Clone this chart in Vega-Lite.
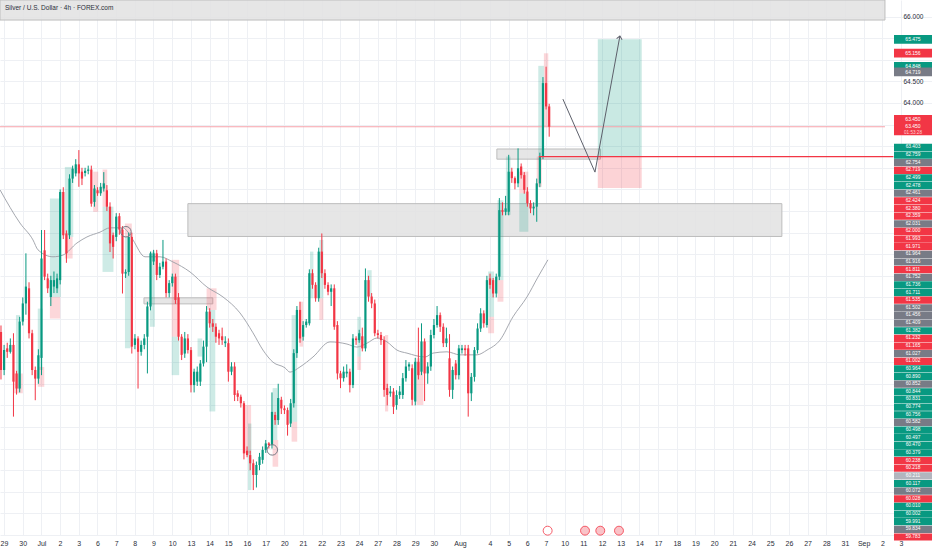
{
"$schema": "https://vega.github.io/schema/vega-lite/v6.json",
"width": 932, "height": 535,
"padding": {"left": 0, "top": 0, "right": 0, "bottom": 15},
"autosize": {"type": "none"},
"background": "white",
"title": {"text": "Silver / U.S. Dollar · 4h · FOREX.com", "anchor": "start", "frame": "group", "orient": "top", "offset": -11, "dx": 5, "fontSize": 6.5, "fontWeight": "normal", "color": "#2a2e39", "font": "Liberation Sans"},
"datasets": {
"zones": [
{"zone": "top", "k0": -0.32, "k1": 283.8, "p0": 65.92, "p1": 66.384},
{"zone": "supply", "k0": 60.0, "k1": 250.7, "p0": 60.91, "p1": 61.67},
{"zone": "breakout", "k0": 159.2, "k1": 192.5, "p0": 62.70, "p1": 62.935},
{"zone": "july", "k0": 45.9, "k1": 68.0, "p0": 59.35, "p1": 59.49}
],
"position": [
{"kind": "target", "k0": 191.6, "k1": 205.7, "p0": 62.759, "p1": 65.475},
{"kind": "stop", "k0": 191.6, "k1": 205.7, "p0": 62.03, "p1": 62.759}
],
"htf": [
{"k0":15.7,"k1":19.2,"p0":61.79,"p1":59.51,"dir":"up"},
{"k0":15.7,"k1":19.0,"p0":59.51,"p1":59.01,"dir":"down"},
{"k0":20.5,"k1":23.2,"p0":62.52,"p1":60.90,"dir":"up"},
{"k0":20.5,"k1":23.0,"p0":60.90,"p1":60.40,"dir":"down"},
{"k0":29.6,"k1":31.2,"p0":62.41,"p1":61.48,"dir":"down"},
{"k0":32.6,"k1":34.1,"p0":62.46,"p1":61.60,"dir":"down"},
{"k0":32.6,"k1":36.1,"p0":61.60,"p1":60.09,"dir":"up"},
{"k0":39.8,"k1":42.0,"p0":61.21,"p1":60.90,"dir":"down"},
{"k0":39.8,"k1":41.6,"p0":60.90,"p1":58.32,"dir":"up"},
{"k0":4.8,"k1":6.1,"p0":59.09,"p1":57.39,"dir":"up"},
{"k0":4.0,"k1":7.0,"p0":57.74,"p1":57.28,"dir":"down"},
{"k0":11.8,"k1":13.4,"p0":59.24,"p1":57.82,"dir":"up"},
{"k0":11.8,"k1":13.9,"p0":57.89,"p1":57.43,"dir":"down"},
{"k0":47.8,"k1":49.4,"p0":60.56,"p1":58.82,"dir":"up"},
{"k0":54.8,"k1":57.2,"p0":60.37,"p1":58.59,"dir":"down"},
{"k0":54.8,"k1":57.2,"p0":58.59,"p1":57.70,"dir":"up"},
{"k0":66.0,"k1":69.2,"p0":59.71,"p1":59.21,"dir":"down"},
{"k0":66.9,"k1":68.8,"p0":59.21,"p1":56.86,"dir":"up"},
{"k0":63.1,"k1":64.6,"p0":58.55,"p1":58.13,"dir":"up"},
{"k0":77.7,"k1":80.3,"p0":57.01,"p1":55.89,"dir":"down"},
{"k0":79.3,"k1":80.4,"p0":56.58,"p1":55.04,"dir":"up"},
{"k0":87.2,"k1":89.0,"p0":56.20,"p1":55.58,"dir":"down"},
{"k0":87.2,"k1":88.7,"p0":57.40,"p1":56.20,"dir":"up"},
{"k0":93.3,"k1":95.1,"p0":59.09,"p1":56.62,"dir":"up"},
{"k0":93.3,"k1":95.1,"p0":56.62,"p1":56.16,"dir":"down"},
{"k0":95.8,"k1":97.0,"p0":59.40,"p1":58.36,"dir":"down"},
{"k0":99.2,"k1":100.3,"p0":60.56,"p1":59.48,"dir":"up"},
{"k0":102.2,"k1":103.5,"p0":60.83,"p1":59.48,"dir":"up"},
{"k0":102.2,"k1":103.5,"p0":59.48,"p1":58.98,"dir":"down"},
{"k0":114.4,"k1":115.6,"p0":59.05,"p1":58.13,"dir":"up"},
{"k0":114.4,"k1":115.6,"p0":58.13,"p1":57.82,"dir":"down"},
{"k0":117.6,"k1":119.0,"p0":60.13,"p1":59.52,"dir":"up"},
{"k0":123.3,"k1":124.3,"p0":58.63,"p1":56.86,"dir":"down"},
{"k0":133.4,"k1":135.6,"p0":58.09,"p1":57.01,"dir":"down"},
{"k0":156.4,"k1":158.3,"p0":60.10,"p1":59.05,"dir":"up"},
{"k0":156.4,"k1":158.3,"p0":59.05,"p1":58.67,"dir":"down"},
{"k0":159.4,"k1":161.3,"p0":61.75,"p1":59.90,"dir":"up"},
{"k0":159.4,"k1":161.3,"p0":59.90,"p1":59.40,"dir":"down"},
{"k0":162.1,"k1":163.6,"p0":62.76,"p1":61.41,"dir":"up"},
{"k0":166.4,"k1":169.3,"p0":62.41,"p1":61.91,"dir":"down"},
{"k0":166.4,"k1":169.3,"p0":61.91,"p1":61.02,"dir":"up"},
{"k0":172.0,"k1":173.6,"p0":62.76,"p1":62.06,"dir":"down"},
{"k0":172.5,"k1":174.3,"p0":64.86,"p1":62.76,"dir":"up"},
{"k0":174.3,"k1":175.7,"p0":65.15,"p1":63.45,"dir":"down"}
],
"ma": [
{"k":-0.32,"p":61.99},{"k":6.10,"p":61.22},{"k":10.27,"p":60.83},{"k":11.88,"p":60.60},{"k":16.69,"p":60.44},{"k":19.90,"p":60.48},{"k":24.40,"p":60.76},{"k":27.61,"p":60.90},{"k":31.78,"p":61.01},{"k":34.99,"p":61.11},{"k":39.17,"p":61.11},{"k":40.77,"p":61.01},{"k":42.38,"p":60.83},{"k":46.23,"p":60.44},{"k":51.04,"p":60.44},{"k":55.22,"p":60.32},{"k":60.67,"p":60.09},{"k":66.13,"p":59.74},{"k":71.27,"p":59.51},{"k":76.73,"p":59.14},{"k":80.90,"p":58.68},{"k":84.11,"p":58.28},{"k":87.32,"p":58.00},{"k":91.17,"p":57.87},{"k":92.78,"p":57.77},{"k":95.99,"p":57.89},{"k":100.16,"p":58.12},{"k":105.62,"p":58.47},{"k":111.08,"p":58.42},{"k":114.29,"p":58.35},{"k":117.50,"p":58.44},{"k":120.71,"p":58.56},{"k":123.92,"p":58.47},{"k":127.13,"p":58.28},{"k":130.34,"p":58.21},{"k":136.12,"p":58.12},{"k":138.68,"p":58.21},{"k":143.18,"p":58.24},{"k":147.35,"p":58.17},{"k":152.81,"p":58.17},{"k":156.02,"p":58.28},{"k":160.19,"p":58.51},{"k":164.37,"p":59.05},{"k":168.86,"p":59.51},{"k":172.39,"p":59.97},{"k":175.60,"p":60.37}
],
"candles": [
{"k":0,"o":58.70,"h":58.85,"l":57.60,"c":57.82},
{"k":1,"o":57.82,"h":58.40,"l":57.70,"c":58.28},
{"k":2,"o":58.32,"h":58.45,"l":58.10,"c":58.24},
{"k":3,"o":58.24,"h":58.55,"l":58.20,"c":58.40},
{"k":4,"o":58.40,"h":58.67,"l":56.74,"c":57.55},
{"k":5,"o":57.74,"h":57.80,"l":57.25,"c":57.39},
{"k":6,"o":57.39,"h":59.05,"l":57.30,"c":58.94},
{"k":7,"o":58.94,"h":59.50,"l":58.85,"c":59.36},
{"k":8,"o":59.36,"h":60.52,"l":59.10,"c":59.75},
{"k":9,"o":59.71,"h":59.85,"l":58.55,"c":58.67},
{"k":10,"o":58.67,"h":58.75,"l":57.70,"c":57.82},
{"k":11,"o":57.82,"h":57.90,"l":57.12,"c":57.62},
{"k":12,"o":57.62,"h":58.30,"l":57.50,"c":58.16},
{"k":13,"o":58.10,"h":61.06,"l":57.70,"c":60.40},
{"k":14,"o":60.59,"h":61.06,"l":59.90,"c":59.98},
{"k":15,"o":59.94,"h":60.05,"l":59.60,"c":59.71},
{"k":16,"o":59.51,"h":60.00,"l":59.30,"c":59.90},
{"k":17,"o":59.75,"h":60.10,"l":59.60,"c":59.90},
{"k":18,"o":59.71,"h":60.05,"l":59.60,"c":59.94},
{"k":19,"o":59.90,"h":62.00,"l":59.80,"c":61.94},
{"k":20,"o":61.94,"h":62.05,"l":60.85,"c":60.94},
{"k":21,"o":60.98,"h":61.05,"l":60.30,"c":60.52},
{"k":22,"o":60.94,"h":62.35,"l":60.85,"c":62.25},
{"k":23,"o":62.25,"h":62.55,"l":62.15,"c":62.48},
{"k":24,"o":62.37,"h":62.70,"l":62.30,"c":62.58},
{"k":25,"o":62.58,"h":62.91,"l":62.06,"c":62.37},
{"k":26,"o":62.41,"h":62.50,"l":62.10,"c":62.25},
{"k":27,"o":62.38,"h":62.50,"l":62.30,"c":62.43},
{"k":28,"o":62.43,"h":62.55,"l":62.35,"c":62.46},
{"k":29,"o":62.46,"h":62.55,"l":61.60,"c":61.67},
{"k":30,"o":61.71,"h":62.10,"l":61.60,"c":62.02},
{"k":31,"o":61.98,"h":62.05,"l":61.85,"c":61.91},
{"k":32,"o":61.91,"h":62.15,"l":61.85,"c":62.06},
{"k":33,"o":62.02,"h":62.40,"l":61.95,"c":62.14},
{"k":34,"o":61.98,"h":62.10,"l":61.50,"c":61.60},
{"k":35,"o":61.60,"h":61.70,"l":60.55,"c":60.75},
{"k":36,"o":60.94,"h":61.00,"l":60.40,"c":60.67},
{"k":37,"o":60.90,"h":61.45,"l":60.80,"c":61.37},
{"k":38,"o":61.38,"h":61.45,"l":60.95,"c":61.07},
{"k":39,"o":61.07,"h":61.15,"l":59.59,"c":60.05},
{"k":40,"o":60.05,"h":60.15,"l":59.95,"c":60.09},
{"k":41,"o":60.09,"h":61.00,"l":60.00,"c":60.90},
{"k":42,"o":60.90,"h":61.00,"l":58.20,"c":58.36},
{"k":43,"o":58.40,"h":58.65,"l":58.30,"c":58.55},
{"k":44,"o":58.55,"h":58.60,"l":57.39,"c":58.24},
{"k":45,"o":58.24,"h":58.50,"l":58.15,"c":58.40},
{"k":46,"o":58.40,"h":58.65,"l":58.30,"c":58.55},
{"k":47,"o":58.59,"h":59.40,"l":57.74,"c":59.29},
{"k":48,"o":59.29,"h":60.56,"l":59.20,"c":60.52},
{"k":49,"o":60.33,"h":60.60,"l":60.25,"c":60.52},
{"k":50,"o":60.52,"h":60.60,"l":59.90,"c":60.02},
{"k":51,"o":60.02,"h":60.30,"l":59.95,"c":60.21},
{"k":52,"o":60.21,"h":60.83,"l":60.15,"c":60.33},
{"k":53,"o":60.33,"h":60.40,"l":59.50,"c":59.60},
{"k":54,"o":59.60,"h":59.90,"l":59.50,"c":59.83},
{"k":55,"o":59.83,"h":60.05,"l":59.75,"c":59.98},
{"k":56,"o":59.98,"h":60.05,"l":59.35,"c":59.44},
{"k":57,"o":59.50,"h":59.60,"l":58.50,"c":58.59},
{"k":58,"o":58.59,"h":58.65,"l":58.05,"c":58.17},
{"k":59,"o":58.20,"h":58.70,"l":58.10,"c":58.55},
{"k":60,"o":58.55,"h":58.65,"l":58.20,"c":58.28},
{"k":61,"o":58.28,"h":58.35,"l":57.30,"c":57.47},
{"k":62,"o":57.47,"h":57.85,"l":57.30,"c":57.78},
{"k":63,"o":57.55,"h":57.90,"l":57.45,"c":57.78},
{"k":64,"o":57.55,"h":58.05,"l":57.45,"c":57.97},
{"k":65,"o":57.97,"h":58.50,"l":57.90,"c":58.36},
{"k":66,"o":58.36,"h":59.30,"l":58.00,"c":59.17},
{"k":67,"o":59.17,"h":59.25,"l":58.80,"c":58.90},
{"k":68,"o":58.90,"h":59.00,"l":58.70,"c":58.82},
{"k":69,"o":58.82,"h":58.90,"l":58.45,"c":58.59},
{"k":70,"o":58.67,"h":58.75,"l":58.40,"c":58.55},
{"k":71,"o":58.60,"h":58.80,"l":58.40,"c":58.51},
{"k":72,"o":58.44,"h":58.60,"l":58.35,"c":58.48},
{"k":73,"o":58.44,"h":58.55,"l":57.55,"c":57.78},
{"k":74,"o":57.78,"h":58.00,"l":57.70,"c":57.90},
{"k":75,"o":57.90,"h":58.00,"l":57.10,"c":57.24},
{"k":76,"o":57.28,"h":57.35,"l":57.10,"c":57.20},
{"k":77,"o":57.20,"h":57.25,"l":56.95,"c":57.05},
{"k":78,"o":57.05,"h":57.10,"l":55.75,"c":55.89},
{"k":79,"o":55.95,"h":56.05,"l":55.80,"c":55.85},
{"k":80,"o":55.85,"h":55.95,"l":55.50,"c":55.66},
{"k":81,"o":55.66,"h":55.75,"l":55.04,"c":55.39},
{"k":82,"o":55.39,"h":55.70,"l":55.10,"c":55.62},
{"k":83,"o":55.62,"h":55.90,"l":55.50,"c":55.81},
{"k":84,"o":55.74,"h":56.05,"l":55.65,"c":55.97},
{"k":85,"o":55.97,"h":56.20,"l":55.90,"c":56.12},
{"k":86,"o":56.12,"h":56.15,"l":56.00,"c":56.08},
{"k":87,"o":56.08,"h":57.30,"l":56.00,"c":56.85},
{"k":88,"o":56.78,"h":56.85,"l":56.55,"c":56.66},
{"k":89,"o":56.66,"h":57.50,"l":56.55,"c":57.17},
{"k":90,"o":57.13,"h":57.20,"l":56.80,"c":56.93},
{"k":91,"o":56.93,"h":57.00,"l":56.80,"c":56.89},
{"k":92,"o":56.89,"h":56.95,"l":56.30,"c":56.55},
{"k":93,"o":56.58,"h":57.15,"l":56.50,"c":57.05},
{"k":94,"o":57.05,"h":58.30,"l":56.95,"c":58.21},
{"k":95,"o":58.21,"h":59.30,"l":58.10,"c":59.21},
{"k":96,"o":59.21,"h":59.40,"l":58.45,"c":58.55},
{"k":97,"o":58.59,"h":58.95,"l":58.50,"c":58.86},
{"k":98,"o":58.86,"h":59.00,"l":58.80,"c":58.94},
{"k":99,"o":58.90,"h":60.15,"l":58.85,"c":60.06},
{"k":100,"o":60.06,"h":60.15,"l":59.70,"c":59.79},
{"k":101,"o":59.79,"h":59.85,"l":59.40,"c":59.48},
{"k":102,"o":59.48,"h":60.65,"l":59.40,"c":60.56},
{"k":103,"o":60.56,"h":60.98,"l":59.95,"c":60.06},
{"k":104,"o":60.06,"h":60.15,"l":59.70,"c":59.79},
{"k":105,"o":59.79,"h":59.85,"l":59.55,"c":59.63},
{"k":106,"o":59.63,"h":59.80,"l":59.30,"c":59.71},
{"k":107,"o":59.71,"h":59.80,"l":58.75,"c":58.82},
{"k":108,"o":58.86,"h":58.95,"l":57.60,"c":57.74},
{"k":109,"o":57.74,"h":57.80,"l":57.40,"c":57.63},
{"k":110,"o":57.63,"h":57.90,"l":57.55,"c":57.78},
{"k":111,"o":57.74,"h":57.95,"l":57.65,"c":57.78},
{"k":112,"o":57.78,"h":57.85,"l":57.30,"c":57.47},
{"k":113,"o":57.47,"h":58.65,"l":57.40,"c":58.55},
{"k":114,"o":58.55,"h":58.60,"l":58.40,"c":58.51},
{"k":115,"o":58.51,"h":58.75,"l":58.45,"c":58.67},
{"k":116,"o":58.60,"h":58.80,"l":58.25,"c":58.32},
{"k":117,"o":58.32,"h":60.17,"l":58.25,"c":59.90},
{"k":118,"o":59.90,"h":60.00,"l":59.40,"c":59.52},
{"k":119,"o":59.52,"h":59.60,"l":59.25,"c":59.36},
{"k":120,"o":59.36,"h":59.45,"l":58.60,"c":58.67},
{"k":121,"o":58.67,"h":58.75,"l":58.55,"c":58.63},
{"k":122,"o":58.63,"h":58.70,"l":58.40,"c":58.51},
{"k":123,"o":58.51,"h":58.60,"l":57.20,"c":57.36},
{"k":124,"o":57.40,"h":57.50,"l":57.00,"c":57.24},
{"k":125,"o":57.28,"h":57.45,"l":57.20,"c":57.32},
{"k":126,"o":57.32,"h":57.40,"l":56.80,"c":56.97},
{"k":127,"o":57.01,"h":57.35,"l":56.90,"c":57.24},
{"k":128,"o":57.24,"h":57.45,"l":57.15,"c":57.32},
{"k":129,"o":57.24,"h":57.75,"l":57.15,"c":57.63},
{"k":130,"o":57.63,"h":58.05,"l":57.55,"c":57.90},
{"k":131,"o":57.90,"h":58.00,"l":57.80,"c":57.95},
{"k":132,"o":57.86,"h":57.95,"l":57.00,"c":57.13},
{"k":133,"o":57.09,"h":58.10,"l":57.00,"c":58.01},
{"k":134,"o":58.01,"h":58.80,"l":57.60,"c":57.70},
{"k":135,"o":57.78,"h":58.90,"l":57.70,"c":58.48},
{"k":136,"o":58.48,"h":58.55,"l":57.10,"c":57.74},
{"k":137,"o":57.74,"h":58.00,"l":57.50,"c":57.90},
{"k":138,"o":57.90,"h":58.75,"l":57.80,"c":58.63},
{"k":139,"o":58.63,"h":59.00,"l":58.55,"c":58.86},
{"k":140,"o":58.86,"h":59.30,"l":58.80,"c":59.09},
{"k":141,"o":59.09,"h":59.15,"l":58.70,"c":58.82},
{"k":142,"o":58.82,"h":58.90,"l":58.35,"c":58.44},
{"k":143,"o":58.44,"h":58.80,"l":58.35,"c":58.55},
{"k":144,"o":58.09,"h":58.65,"l":57.20,"c":57.36},
{"k":145,"o":57.36,"h":57.90,"l":57.15,"c":57.82},
{"k":146,"o":57.97,"h":58.05,"l":57.60,"c":57.70},
{"k":147,"o":57.70,"h":58.40,"l":57.60,"c":58.32},
{"k":148,"o":58.28,"h":58.40,"l":58.20,"c":58.32},
{"k":149,"o":58.32,"h":58.40,"l":58.15,"c":58.28},
{"k":150,"o":58.32,"h":58.40,"l":56.74,"c":57.28},
{"k":151,"o":57.28,"h":57.75,"l":57.10,"c":57.66},
{"k":152,"o":57.66,"h":58.35,"l":57.55,"c":58.28},
{"k":153,"o":58.28,"h":58.90,"l":58.20,"c":58.78},
{"k":154,"o":58.78,"h":59.25,"l":58.70,"c":59.13},
{"k":155,"o":59.13,"h":59.20,"l":58.80,"c":58.90},
{"k":156,"o":58.86,"h":60.00,"l":58.80,"c":59.90},
{"k":157,"o":59.94,"h":60.05,"l":59.70,"c":59.79},
{"k":158,"o":59.90,"h":59.95,"l":59.50,"c":59.59},
{"k":159,"o":59.59,"h":60.05,"l":59.50,"c":59.98},
{"k":160,"o":59.98,"h":61.80,"l":59.90,"c":61.52},
{"k":161,"o":61.52,"h":61.70,"l":61.40,"c":61.48},
{"k":162,"o":61.48,"h":61.85,"l":61.40,"c":61.56},
{"k":163,"o":61.48,"h":62.80,"l":61.40,"c":62.41},
{"k":164,"o":62.41,"h":62.50,"l":62.15,"c":62.26},
{"k":165,"o":62.26,"h":62.30,"l":62.00,"c":62.14},
{"k":166,"o":62.14,"h":62.95,"l":62.05,"c":62.49},
{"k":167,"o":62.53,"h":62.60,"l":62.25,"c":62.33},
{"k":168,"o":62.33,"h":62.40,"l":61.90,"c":61.99},
{"k":169,"o":61.95,"h":62.05,"l":61.60,"c":61.68},
{"k":170,"o":61.68,"h":61.75,"l":61.45,"c":61.56},
{"k":171,"o":61.56,"h":61.70,"l":61.40,"c":61.60},
{"k":172,"o":61.60,"h":62.25,"l":61.25,"c":62.14},
{"k":173,"o":62.14,"h":62.85,"l":62.05,"c":62.76},
{"k":174,"o":62.76,"h":64.60,"l":62.70,"c":64.46},
{"k":175,"o":64.46,"h":64.84,"l":63.85,"c":63.92},
{"k":176,"o":63.92,"h":63.98,"l":63.22,"c":63.45}
],
"levels": [
{"name": "last", "p": 63.45, "k0": -0.32, "k1": 283.8},
{"name": "entry", "p": 62.759, "k0": 172.7, "k1": 286.5}
],
"path": [
{"i": 1, "k": 180.4, "p": 64.09},
{"i": 2, "k": 190.7, "p": 62.40},
{"i": 3, "k": 198.7, "p": 65.55}
],
"circles": [
{"k": 40.1, "p": 61.02},
{"k": 87.1, "p": 55.97}
],
"events": [
{"k": 175.5, "kind": "dividend"},
{"k": 187.5, "kind": "macro"},
{"k": 192.4, "kind": "macro"},
{"k": 198.4, "kind": "macro"}
],
"toptags": [
{"v": 65.475, "label": "65.475", "kind": "up"},
{"v": 65.156, "label": "65.156", "kind": "down"},
{"v": 64.848, "label": "64.848", "kind": "up"},
{"v": 64.719, "label": "64.719", "kind": "neutral"}
],
"current": [
{"v": 63.45, "upper": "63.450", "price": "63.450", "timer": "01:53:28"}
],
"stack": [
{"label":"63.403","kind":"up"},
{"label":"62.759","kind":"up"},
{"label":"62.754","kind":"neutral"},
{"label":"62.719","kind":"down"},
{"label":"62.499","kind":"up"},
{"label":"62.478","kind":"up"},
{"label":"62.461","kind":"neutral"},
{"label":"62.424","kind":"down"},
{"label":"62.380","kind":"down"},
{"label":"62.359","kind":"down"},
{"label":"62.031","kind":"neutral"},
{"label":"62.000","kind":"down"},
{"label":"61.993","kind":"down"},
{"label":"61.971","kind":"down"},
{"label":"61.964","kind":"neutral"},
{"label":"61.916","kind":"neutral"},
{"label":"61.811","kind":"down"},
{"label":"61.752","kind":"neutral"},
{"label":"61.736","kind":"up"},
{"label":"61.711","kind":"up"},
{"label":"61.535","kind":"down"},
{"label":"61.502","kind":"neutral"},
{"label":"61.456","kind":"neutral"},
{"label":"61.409","kind":"neutral"},
{"label":"61.382","kind":"up"},
{"label":"61.232","kind":"down"},
{"label":"61.165","kind":"down"},
{"label":"61.027","kind":"neutral"},
{"label":"61.002","kind":"down"},
{"label":"60.964","kind":"up"},
{"label":"60.890","kind":"up"},
{"label":"60.852","kind":"neutral"},
{"label":"60.844","kind":"up"},
{"label":"60.831","kind":"up"},
{"label":"60.774","kind":"up"},
{"label":"60.756","kind":"up"},
{"label":"60.582","kind":"neutral"},
{"label":"60.498","kind":"up"},
{"label":"60.497","kind":"up"},
{"label":"60.470","kind":"up"},
{"label":"60.379","kind":"up"},
{"label":"60.238","kind":"down"},
{"label":"60.218","kind":"down"},
{"label":"60.211","kind":"faded"},
{"label":"60.117","kind":"up"},
{"label":"60.072","kind":"neutral"},
{"label":"60.028","kind":"down"},
{"label":"60.010","kind":"up"},
{"label":"60.002","kind":"up"},
{"label":"59.991","kind":"up"},
{"label":"59.834","kind":"neutral"},
{"label":"59.783","kind":"down"}
]
},
"layer": [
{
"layer": [
{
"data": {"name": "zones"},
"mark": {"type": "rect", "fill": "#e2e2e2", "fillOpacity": 0.85, "stroke": "#bdbdbd", "strokeWidth": 1, "clip": true},
"encoding": {
"x": {"field": "k0", "type": "quantitative", "title": null,
"scale": {"domain": [-0.32, 298.9], "nice": false, "zero": false, "padding": 0},
"axis": {"orient": "bottom", "grid": true, "gridColor": "#eef0f4", "domain": false, "ticks": false, "labelFontSize": 7, "labelColor": "#2a2e39", "labelPadding": 4, "labelOverlap": false, "labelFlush": false, "labelSeparation": 0, "tickCount": 100,
"values": [0.96,6.96,12.96,18.96,24.96,30.96,36.96,42.96,48.96,54.96,60.96,66.96,72.96,78.96,84.96,90.96,96.96,102.96,108.96,114.96,120.96,126.96,132.96,138.96,147.36,156.96,162.96,168.96,174.96,180.96,186.96,192.96,198.96,204.96,210.96,216.96,222.96,228.96,234.96,240.96,246.96,252.96,258.96,264.96,270.96,276.96,282.96,288.96],
"labelExpr": "['29','30','Jul','2','3','6','7','8','9','10','13','14','15','16','17','20','21','22','23','24','27','28','29','30','Aug','','4','5','6','7','10','11','12','13','14','17','18','19','20','21','24','25','26','27','28','31','Sep','2','3'][round((datum.value - 0.96) / 6)]"}},
"x2": {"field": "k1"},
"y": {"field": "p0", "type": "quantitative", "title": null,
"scale": {"domain": [54, 66.384], "nice": false, "zero": false, "padding": 0},
"axis": {"orient": "right", "offset": -38, "grid": true, "gridColor": "#eef0f4", "domain": false, "ticks": false, "labelFontSize": 6.5, "labelColor": "#2a2e39", "labelPadding": 9, "labelAlign": "left", "labelOverlap": false, "labelSeparation": 0, "tickCount": 100,
"values": [54,54.5,55,55.5,56,56.5,57,57.5,58,58.5,59,59.5,60,60.5,61,61.5,62,62.5,63,63.5,64,64.5,65,65.5,66],
"labelExpr": "indexof([66, 64.5, 64], datum.value) >= 0 ? format(datum.value, '.3f') : ''"}},
"y2": {"field": "p1"}
}
},
{
"data": {"name": "position"},
"mark": {"type": "rect", "fillOpacity": 0.22, "strokeWidth": 0},
"encoding": {
"x": {"field": "k0", "type": "quantitative", "title": null},
"x2": {"field": "k1"},
"y": {"field": "p0", "type": "quantitative", "title": null},
"y2": {"field": "p1"},
"color": {"condition": {"test": "datum.kind === 'target'", "value": "#089981"}, "value": "#f23645"}
}
},
{
"data": {"name": "htf"},
"mark": {"type": "rect", "fillOpacity": 0.2, "strokeWidth": 0},
"encoding": {
"x": {"field": "k0", "type": "quantitative", "title": null},
"x2": {"field": "k1"},
"y": {"field": "p0", "type": "quantitative", "title": null},
"y2": {"field": "p1"},
"color": {"condition": {"test": "datum.dir === 'up'", "value": "#089981"}, "value": "#f23645"}
}
},
{
"data": {"name": "levels"},
"transform": [{"filter": "datum.name === 'last'"}],
"mark": {"type": "rule", "color": "#f7a3ab", "strokeWidth": 1},
"encoding": {
"x": {"field": "k0", "type": "quantitative", "title": null},
"x2": {"field": "k1"},
"y": {"field": "p", "type": "quantitative", "title": null}
}
},
{
"data": {"name": "ma"},
"mark": {"type": "line", "color": "#9b9ea6", "strokeWidth": 0.9, "interpolate": "monotone", "clip": true},
"encoding": {
"x": {"field": "k", "type": "quantitative", "title": null},
"y": {"field": "p", "type": "quantitative", "title": null}
}
},
{
"data": {"name": "candles"},
"mark": {"type": "rule", "strokeWidth": 1},
"encoding": {
"x": {"field": "k", "type": "quantitative", "title": null},
"y": {"field": "l", "type": "quantitative", "title": null},
"y2": {"field": "h"},
"color": {"condition": {"test": "datum.c >= datum.o", "value": "#089981"}, "value": "#f23645"}
}
},
{
"data": {"name": "candles"},
"mark": {"type": "bar", "width": 2.2},
"encoding": {
"x": {"field": "k", "type": "quantitative", "title": null},
"y": {"field": "o", "type": "quantitative", "title": null},
"y2": {"field": "c"},
"color": {"condition": {"test": "datum.c >= datum.o", "value": "#089981"}, "value": "#f23645"}
}
},
{
"data": {"name": "levels"},
"transform": [{"filter": "datum.name === 'entry'"}],
"mark": {"type": "rule", "color": "#f23645", "strokeWidth": 1.3},
"encoding": {
"x": {"field": "k0", "type": "quantitative", "title": null},
"x2": {"field": "k1"},
"y": {"field": "p", "type": "quantitative", "title": null}
}
},
{
"data": {"name": "path"},
"mark": {"type": "line", "color": "#5d606b", "strokeWidth": 1},
"encoding": {
"x": {"field": "k", "type": "quantitative", "title": null},
"y": {"field": "p", "type": "quantitative", "title": null},
"order": {"field": "i"}
}
},
{
"data": {"name": "path"},
"transform": [{"filter": "datum.i === 3"}],
"mark": {"type": "point", "shape": "M-0.7,0.8L0,0L0.7,0.8", "filled": false, "stroke": "#5d606b", "strokeWidth": 1, "size": 64, "angle": 10, "opacity": 1},
"encoding": {
"x": {"field": "k", "type": "quantitative", "title": null},
"y": {"field": "p", "type": "quantitative", "title": null}
}
},
{
"data": {"name": "circles"},
"mark": {"type": "point", "shape": "circle", "filled": false, "stroke": "#787b86", "strokeWidth": 1, "size": 110, "opacity": 1},
"encoding": {
"x": {"field": "k", "type": "quantitative", "title": null},
"y": {"field": "p", "type": "quantitative", "title": null}
}
},
{
"data": {"name": "events"},
"mark": {"type": "point", "shape": "circle", "filled": true, "strokeWidth": 0.8, "size": 80, "opacity": 1},
"encoding": {
"x": {"field": "k", "type": "quantitative", "title": null},
"y": {"datum": 54.1, "type": "quantitative"},
"fill": {"condition": {"test": "datum.kind === 'dividend'", "value": "#ffffff"}, "value": "#f9c3c8"},
"stroke": {"value": "#f23645"}
}
},
{
"data": {"name": "toptags"},
"mark": {"type": "point", "shape": "M-1,-0.23H1V0.23H-1Z", "size": 1444, "filled": true, "opacity": 1, "strokeWidth": 0},
"encoding": {
"x": {"datum": 292.8, "type": "quantitative"},
"y": {"field": "v", "type": "quantitative", "title": null},
"color": {"condition": [{"test": "datum.kind === 'up'", "value": "#089981"}, {"test": "datum.kind === 'down'", "value": "#f23645"}], "value": "#787b86"}
}
},
{
"data": {"name": "toptags"},
"mark": {"type": "text", "fontSize": 5, "color": "#ffffff", "align": "center", "baseline": "middle"},
"encoding": {
"x": {"datum": 292.8, "type": "quantitative"},
"y": {"field": "v", "type": "quantitative", "title": null},
"text": {"field": "label"}
}
},
{
"data": {"name": "current"},
"mark": {"type": "point", "shape": "M-1,-0.62H1V0.45H-1Z", "size": 1444, "filled": true, "opacity": 1, "color": "#f23645", "strokeWidth": 0},
"encoding": {
"x": {"datum": 292.8, "type": "quantitative"},
"y": {"field": "v", "type": "quantitative", "title": null}
}
},
{
"data": {"name": "current"},
"mark": {"type": "text", "fontSize": 5, "color": "#ffffff", "align": "center", "baseline": "middle", "dy": -8},
"encoding": {
"x": {"datum": 292.8, "type": "quantitative"},
"y": {"field": "v", "type": "quantitative", "title": null},
"text": {"field": "upper"}
}
},
{
"data": {"name": "current"},
"mark": {"type": "text", "fontSize": 5, "color": "#ffffff", "align": "center", "baseline": "middle", "dy": -0.5},
"encoding": {
"x": {"datum": 292.8, "type": "quantitative"},
"y": {"field": "v", "type": "quantitative", "title": null},
"text": {"field": "price"}
}
},
{
"data": {"name": "current"},
"mark": {"type": "text", "fontSize": 4.6, "color": "#ffd3d7", "align": "center", "baseline": "middle", "dy": 6.5},
"encoding": {
"x": {"datum": 292.8, "type": "quantitative"},
"y": {"field": "v", "type": "quantitative", "title": null},
"text": {"field": "timer"}
}
}
]
},
{
"data": {"name": "stack"},
"encoding": {
"x": {"datum": 292.8, "type": "quantitative"},
"y": {"field": "label", "type": "ordinal", "sort": null, "title": null, "axis": null, "scale": {"type": "point", "range": [147.4, 537], "padding": 0}}
},
"layer": [
{
"mark": {"type": "point", "shape": "M-1,-0.19H1V0.19H-1Z", "size": 1444, "filled": true, "opacity": 1, "strokeWidth": 0},
"encoding": {
"color": {"condition": [{"test": "datum.kind === 'up'", "value": "#089981"}, {"test": "datum.kind === 'down'", "value": "#f23645"}, {"test": "datum.kind === 'faded'", "value": "#b2b5be"}], "value": "#787b86"}
}
},
{
"mark": {"type": "text", "fontSize": 4.8, "color": "#ffffff", "align": "center", "baseline": "middle"},
"encoding": {"text": {"field": "label"}}
}
]
}
],
"resolve": {"scale": {"y": "independent"}},
"config": {
"view": {"stroke": null},
"font": "Liberation Sans",
"axis": {"labelOverlap": false, "labelSeparation": 0}
}
}
